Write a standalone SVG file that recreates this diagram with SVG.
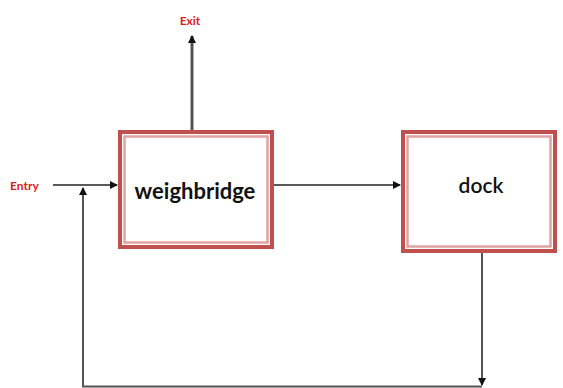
<svg xmlns="http://www.w3.org/2000/svg" width="563" height="388" viewBox="0 0 563 388">
<style>
.outer{fill:#fff;stroke:#c0504d;stroke-width:4}
.inner{fill:none;stroke:#dfa3a2;stroke-width:2.5}
.conn{fill:none;stroke:#222;stroke-width:1.5}
.lbl{font-family:Lato,"Open Sans",sans-serif;fill:#e0201c;font-size:12px;font-weight:bold}
.node{font-family:Lato,"Open Sans",sans-serif;fill:#111;text-anchor:middle}
</style>
<defs>
<marker id="ah" markerWidth="8" markerHeight="8" refX="7" refY="4" orient="auto" markerUnits="userSpaceOnUse">
<path d="M0,0 L8,4 L0,8 z" fill="#111"/>
</marker>
</defs>
<rect width="563" height="388" fill="#fff"/>
<g id="connectors">
<line class="conn" x1="192" y1="130" x2="192" y2="36" marker-end="url(#ah)" style="stroke-width:3;stroke:#555"/>
<line class="conn" x1="53" y1="185" x2="117" y2="185" marker-end="url(#ah)"/>
<line class="conn" x1="274" y1="185" x2="400" y2="185" marker-end="url(#ah)"/>
<line class="conn" x1="482" y1="252" x2="482" y2="385" marker-end="url(#ah)" style="stroke-width:2;stroke:#555"/>
<polyline class="conn" points="482,386.5 83,386.5 83,188" marker-end="url(#ah)" style="stroke-width:2;stroke:#555"/>
</g>
<g id="weighbridge">
<rect class="outer" x="120" y="132" width="152" height="115"/>
<rect class="inner" x="124.5" y="136.5" width="143" height="106"/>
<text class="node" x="195" y="199" font-size="22" font-weight="bold">weighbridge</text>
</g>
<g id="dock">
<rect class="outer" x="403" y="132" width="152" height="119"/>
<rect class="inner" x="407.5" y="136.5" width="143" height="110"/>
<text class="node" x="481" y="193" font-size="21" font-weight="600">dock</text>
</g>
<g id="labels">
<text class="lbl" x="190" y="25" text-anchor="middle">Exit</text>
<text class="lbl" x="10" y="190">Entry</text>
</g>
</svg>
